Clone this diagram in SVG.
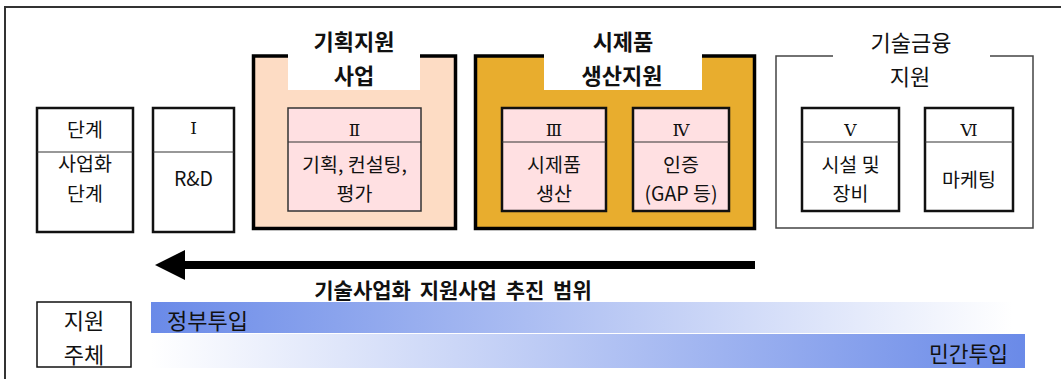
<svg xmlns="http://www.w3.org/2000/svg" width="1061" height="379" viewBox="0 0 1061 379">
<defs>
<linearGradient id="gGov" x1="0" y1="0" x2="1" y2="0">
<stop offset="0" stop-color="#6a8ae8"/>
<stop offset="1" stop-color="#ffffff"/>
</linearGradient>
<linearGradient id="gPriv" x1="0" y1="0" x2="1" y2="0">
<stop offset="0" stop-color="#ffffff"/>
<stop offset="1" stop-color="#6a8ae8"/>
</linearGradient>
<style>
text{font-family:"Noto Sans CJK KR","Noto Sans",sans-serif;fill:#111;text-anchor:middle}
.t18{font-size:19.5px}
.t20{font-size:21.5px}
.tt{font-size:22px}
.b{font-weight:bold}
.num{font-family:"DejaVu Serif","Liberation Serif",serif;font-size:17px}
.box{fill:#fff;stroke:#111;stroke-width:2.5}
.pbox{fill:#ffe0e2;stroke:#333;stroke-width:1.5}
.pbox2{fill:#ffe0e2;stroke:#111;stroke-width:2.5}
.div{stroke:#333;stroke-width:1.2}
</style>
</defs>

<g id="frame">
<path d="M5,379 V7 H1061" fill="none" stroke="#333" stroke-width="2"/>
</g>

<g id="stage-label">
<rect class="box" x="37" y="108" width="96" height="124"/>
<line class="div" x1="37" y1="152" x2="133" y2="152"/>
<text class="t18" x="85" y="137">단계</text>
<text class="t18" x="85" y="171">사업화</text>
<text class="t18" x="85" y="201">단계</text>
</g>

<g id="stage-1">
<rect class="box" x="153" y="108" width="81" height="124"/>
<line class="div" x1="153" y1="152" x2="234" y2="152"/>
<text class="num" x="193.5" y="134">Ⅰ</text>
<text class="t18" x="193.5" y="186">R&amp;D</text>
</g>

<g id="planning-support">
<rect x="253.5" y="56" width="202" height="172.5" fill="#fddcc4"/>
<rect x="288" y="50" width="132" height="40" fill="#fff"/>
<path d="M288,56 H253.5 V228.5 H455.5 V56 H420" fill="none" stroke="#000" stroke-width="3.5"/>
<text class="tt b" x="354" y="50">기획지원</text>
<text class="tt b" x="354" y="84">사업</text>
</g>

<g id="stage-2">
<rect class="pbox" x="288" y="108" width="133" height="103"/>
<line class="div" x1="288" y1="142" x2="421" y2="142"/>
<text class="num" x="354.5" y="136">Ⅱ</text>
<text class="t18" x="354.5" y="172">기획, 컨설팅,</text>
<text class="t18" x="354.5" y="201">평가</text>
</g>

<g id="prototype-support">
<rect x="475.5" y="56" width="279" height="172.5" fill="#e8ad2e"/>
<rect x="544" y="50" width="158" height="40" fill="#fff"/>
<path d="M544,56 H475.5 V228.5 H754.5 V56 H702" fill="none" stroke="#000" stroke-width="3.5"/>
<text class="tt b" x="623" y="50">시제품</text>
<text class="tt b" x="622" y="84">생산지원</text>
</g>

<g id="stage-3">
<rect class="pbox2" x="502" y="108" width="104" height="103"/>
<line class="div" x1="502" y1="142" x2="606" y2="142"/>
<text class="num" x="554" y="136">Ⅲ</text>
<text class="t18" x="554" y="172">시제품</text>
<text class="t18" x="554" y="201">생산</text>
</g>

<g id="stage-4">
<rect class="pbox2" x="633" y="108" width="96" height="103"/>
<line class="div" x1="633" y1="142" x2="729" y2="142"/>
<text class="num" x="681" y="136">Ⅳ</text>
<text class="t18" x="681" y="172">인증</text>
<text class="t18" x="681" y="201">(GAP 등)</text>
</g>

<g id="finance-support">
<path d="M833,56 H776 V228 H1033 V56 H990" fill="none" stroke="#444" stroke-width="1.5"/>
<text class="tt" x="911" y="51">기술금융</text>
<text class="tt" x="910" y="85">지원</text>
</g>

<g id="stage-5">
<rect class="box" x="802" y="108" width="97" height="103"/>
<line class="div" x1="802" y1="142" x2="899" y2="142"/>
<text class="num" x="850.5" y="136">Ⅴ</text>
<text class="t18" x="850.5" y="172">시설 및</text>
<text class="t18" x="850.5" y="201">장비</text>
</g>

<g id="stage-6">
<rect class="box" x="925" y="108" width="88" height="103"/>
<line class="div" x1="925" y1="142" x2="1013" y2="142"/>
<text class="num" x="969" y="136">Ⅵ</text>
<text class="t18" x="969" y="187">마케팅</text>
</g>

<g id="connectors">
<rect x="183" y="261" width="572" height="8" fill="#000"/>
<polygon points="155,265 185,250 185,280" fill="#000"/>
</g>

<g id="scope-label">
<text class="b" x="453" y="298" style="font-size:21px;word-spacing:4px">기술사업화 지원사업 추진 범위</text>
</g>

<g id="actor-label">
<rect x="37" y="302" width="94" height="65" fill="#fff" stroke="#111" stroke-width="1.5"/>
<text class="tt" x="84" y="329">지원</text>
<text class="tt" x="84" y="363">주체</text>
</g>

<g id="gov-bar">
<rect x="151" y="302" width="862" height="31" fill="url(#gGov)"/>
<text class="tt" x="167" y="329" style="text-anchor:start">정부투입</text>
</g>

<g id="private-bar">
<rect x="151" y="334" width="874" height="34" fill="url(#gPriv)"/>
<text class="t20" x="1008" y="362" style="text-anchor:end">민간투입</text>
</g>
</svg>
